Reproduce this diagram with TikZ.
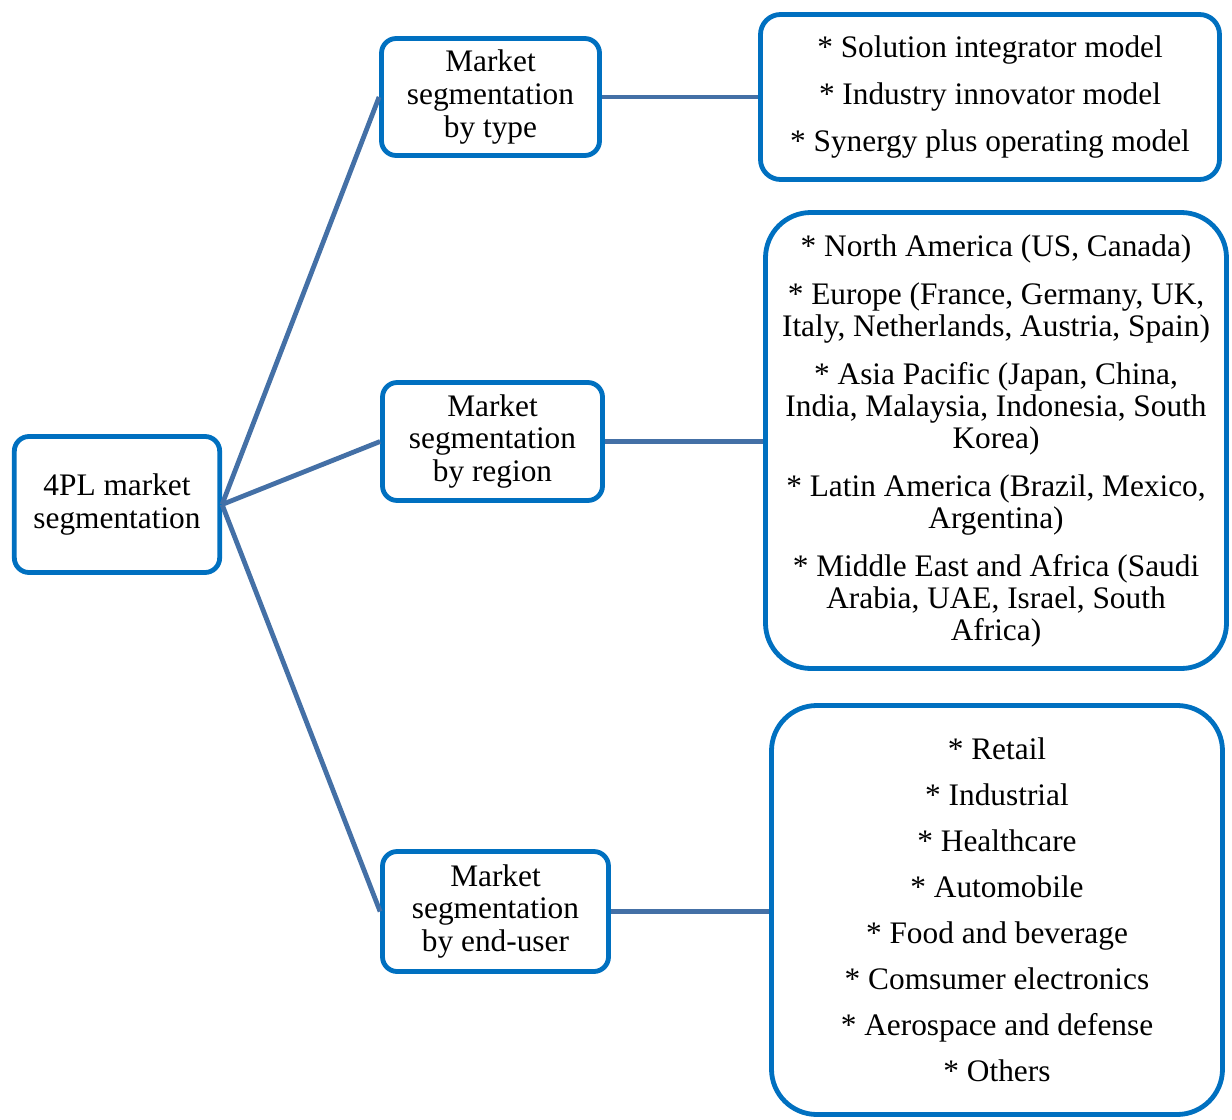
\documentclass[tikz,border=0pt]{standalone}
\usepackage{fontspec}
\setmainfont{Liberation Serif}
\usetikzlibrary{positioning}
\definecolor{boxblue}{RGB}{0,112,192}
\definecolor{linkblue}{RGB}{68,112,166}
\tikzset{>=latex}
\tikzset{
  segbox/.style={draw=boxblue, line width=3.6pt, rounded corners=11pt, fill=white,
    align=center, inner sep=0pt, font=\fontsize{23.5}{24.5}\selectfont},
  listbox/.style={segbox, rounded corners=34pt, font=\fontsize{23.5}{24}\selectfont},
  link/.style={draw=linkblue, line width=3.6pt}
}

\begin{document}
\begin{tikzpicture}[x=0.75pt, y=-0.75pt]
  \useasboundingbox (0,0) rectangle (1232,1120);
  \node[segbox, minimum width=154pt, minimum height=102pt] (root) at (117,504.5) {4PL market\\segmentation};
  \node[segbox, minimum width=163.5pt, minimum height=87.75pt] (bytype) at (490.5,97) {Market\\segmentation\\by type};
  \node[segbox, minimum width=165pt, minimum height=88.5pt] (byregion) at (492.5,441.5) {Market\\segmentation\\by region};
  \node[segbox, minimum width=169.5pt, minimum height=90pt] (byuser) at (495.5,911.5) {Market\\segmentation\\by end-user};
  \node[listbox, rounded corners=15pt, minimum width=344.25pt, minimum height=123.75pt] (typelist) at (990,97)
    {* Solution integrator model\\[11pt]* Industry innovator model\\[11pt]* Synergy plus operating model};
  \node[listbox, minimum width=345.75pt, minimum height=342pt] (regionlist) at (996,440.5)
    {* North America (US, Canada)\\[12pt]
     * Europe (France, Germany, UK,\\Italy, Netherlands, Austria, Spain)\\[12pt]
     * Asia Pacific (Japan, China,\\India, Malaysia, Indonesia, South\\Korea)\\[12pt]
     * Latin America (Brazil, Mexico,\\Argentina)\\[12pt]
     * Middle East and Africa (Saudi\\Arabia, UAE, Israel, South\\Africa)};
  \node[listbox, minimum width=338.25pt, minimum height=306.75pt] (userlist) at (997,910)
    {* Retail\\[10.5pt]* Industrial\\[10.5pt]* Healthcare\\[10.5pt]* Automobile\\[10.5pt]
     * Food and beverage\\[10.5pt]* Comsumer electronics\\[10.5pt]* Aerospace and defense\\[10.5pt]* Others};
  \draw[link] (root.east) -- (bytype.west);
  \draw[link] (root.east) -- (byregion.west);
  \draw[link] (root.east) -- (byuser.west);
  \draw[link] (bytype.east) -- (bytype.east -| typelist.west);
  \draw[link] (byregion.east) -- (byregion.east -| regionlist.west);
  \draw[link] (byuser.east) -- (byuser.east -| userlist.west);
\end{tikzpicture}
\end{document}
